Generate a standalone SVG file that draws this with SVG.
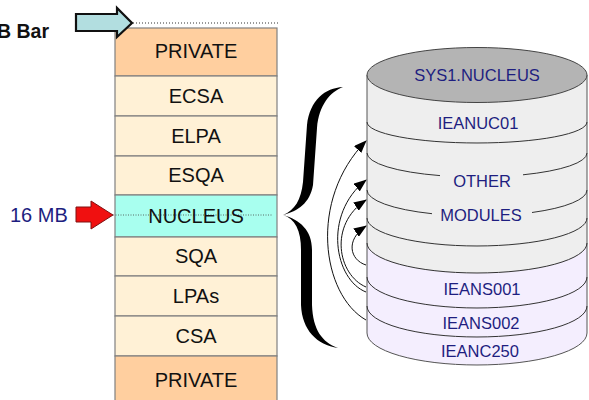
<svg xmlns="http://www.w3.org/2000/svg" width="589" height="400" viewBox="0 0 589 400">
<defs>
<style>
.row{stroke:#808080;stroke-width:1.2}
.priv{fill:#FFCF9F}
.cream{fill:#FFF1D6}
.nuc{fill:#A8FFEF}
.lbl{font-family:"Liberation Sans",Arial,sans-serif;font-size:20px;fill:#111;text-anchor:middle}
.cyl{font-family:"Liberation Sans",Arial,sans-serif;font-size:16.5px;fill:#1E1E80;text-anchor:middle}
.band{fill:none;stroke:#333;stroke-width:1}
.conn{fill:none;stroke:#111;stroke-width:1}
</style>
<marker id="ah" markerWidth="13" markerHeight="10" refX="12" refY="5" orient="auto" markerUnits="userSpaceOnUse">
<path d="M0,0 L13,5 L0,10 Z" fill="#000"/>
</marker>
</defs>

<rect width="589" height="400" fill="#fff"/>

<text x="-3" y="38" font-family="Liberation Sans,Arial,sans-serif" font-size="19.5" font-weight="bold" fill="#111">B Bar</text>

<g id="stack">
<g id="row-private-top"><rect class="row priv" x="115" y="28" width="162" height="48"/><text class="lbl" x="196" y="58">PRIVATE</text></g>
<g id="row-ecsa"><rect class="row cream" x="115" y="76" width="162" height="40"/><text class="lbl" x="196" y="103">ECSA</text></g>
<g id="row-elpa"><rect class="row cream" x="115" y="116" width="162" height="40"/><text class="lbl" x="196" y="143">ELPA</text></g>
<g id="row-esqa"><rect class="row cream" x="115" y="156" width="162" height="39"/><text class="lbl" x="196" y="182">ESQA</text></g>
<g id="row-nucleus"><rect class="row nuc" x="115" y="195" width="162" height="42"/>
<line x1="113" y1="215" x2="272" y2="215" stroke="#444" stroke-width="0.8" stroke-dasharray="1,1.5"/>
<text class="lbl" x="196" y="223">NUCLEUS</text></g>
<g id="row-sqa"><rect class="row cream" x="115" y="237" width="162" height="39"/><text class="lbl" x="196" y="263">SQA</text></g>
<g id="row-lpas"><rect class="row cream" x="115" y="276" width="162" height="40"/><text class="lbl" x="196" y="303">LPAs</text></g>
<g id="row-csa"><rect class="row cream" x="115" y="316" width="162" height="40"/><text class="lbl" x="196" y="343">CSA</text></g>
<g id="row-private-bottom"><rect class="row priv" x="115" y="356" width="162" height="50"/><text class="lbl" x="196" y="387">PRIVATE</text></g>
</g>

<g id="bar-arrow">
<path d="M76,14 L117,14 L117,8 L132,23 L117,37 L117,31 L76,31 Z" fill="#B2DEE0" stroke="#111" stroke-width="2.2" stroke-linejoin="miter"/>
<line x1="133" y1="23" x2="280" y2="23" stroke="#333" stroke-width="1" stroke-dasharray="1,2"/>
</g>

<g id="mb16">
<text x="10" y="222" font-family="Liberation Sans,Arial,sans-serif" font-size="20" fill="#1E1E80">16 MB</text>
<path d="M76,207 L91,207 L91,201 L113,215 L91,229 L91,222 L76,222 Z" fill="#F01010" stroke="#801010" stroke-width="1"/>
</g>

<g id="brace">
<path d="M343,87 C325,88 310,100 307,125 L303,182 C301,200 295,210 283,215 C298,211 310,203 313,185 L317,128 C319,105 330,92 343,87 Z" fill="#000"/>
<path d="M283,215 C295,219 301,230 301,250 L301,305 C302,330 317,345 338,348 C322,342 313,330 312,305 L312,250 C312,230 300,220 283,215 Z" fill="#000"/>
</g>

<g id="cylinder">
<path d="M367,75 L367,333 A110,32 0 0 0 587,333 L587,75 Z" fill="#EEEEEE"/>
<path d="M367,243 L367,333 A110,32 0 0 0 587,333 L587,243 A110,30 0 0 1 367,243 Z" fill="#F4EEFE"/>
<path d="M367,75 L367,333 A110,32 0 0 0 587,333 L587,75" fill="none" stroke="#555" stroke-width="1"/>
<ellipse cx="477" cy="75" rx="110" ry="27.5" fill="#B4B4B4" stroke="#444" stroke-width="1"/>
<path class="band" d="M367,122 A110,21 0 0 0 587,122"/>
<path class="band" d="M367,153 A110,24 0 0 0 440,175.6 M523,174.8 A110,24 0 0 0 587,153"/>
<path class="band" d="M367,190 A110,26 0 0 0 432,213.7 M532,212.5 A110,26 0 0 0 587,190"/>
<path class="band" d="M367,218 A110,28 0 0 0 587,218"/>
<path class="band" d="M367,243 A110,30 0 0 0 587,243"/>
<path class="band" d="M367,277 A110,31 0 0 0 587,277"/>
<path class="band" d="M367,306 A110,31 0 0 0 587,306"/>
<text class="cyl" x="477" y="81" font-size="18">SYS1.NUCLEUS</text>
<text class="cyl" x="478" y="129">IEANUC01</text>
<text class="cyl" x="482" y="187">OTHER</text>
<text class="cyl" x="481" y="221">MODULES</text>
<text class="cyl" x="482" y="295">IEANS001</text>
<text class="cyl" x="481" y="329">IEANS002</text>
<text class="cyl" x="480" y="357">IEANC250</text>
</g>

<g id="connectors">
<path class="conn" d="M366,320 C322,295 308,200 366,141" marker-end="url(#ah)"/>
<path class="conn" d="M366,292 C335,280 322,215 366,180" marker-end="url(#ah)"/>
<path class="conn" d="M366,287 C338,275 328,225 366,200" marker-end="url(#ah)"/>
<path class="conn" d="M366,265 C350,260 345,240 366,226" marker-end="url(#ah)"/>
</g>
</svg>
